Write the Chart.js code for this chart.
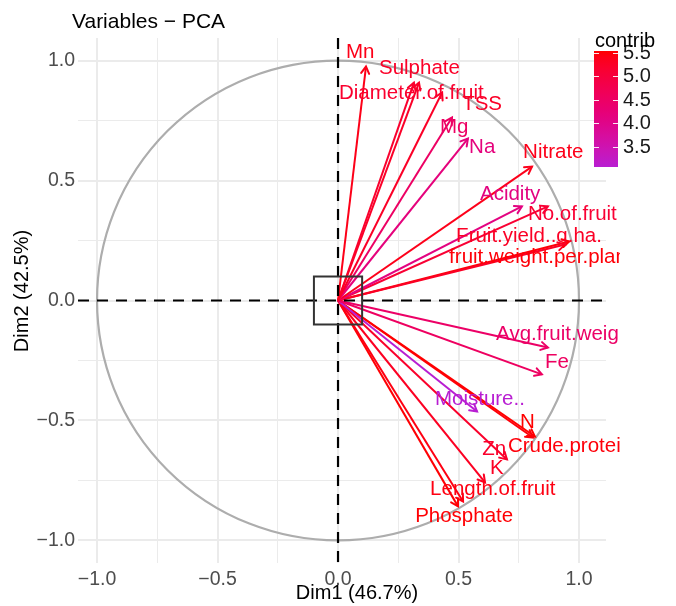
<!DOCTYPE html>
<html>
<head>
<meta charset="utf-8">
<script src="https://cdn.jsdelivr.net/npm/chart.js@4"></script>
<style>
html,body{margin:0;padding:0;background:#fff}
#wrap{width:676px;height:606px;position:relative}
</style>
</head>
<body>
<div id="wrap"><canvas id="chart"></canvas></div>
<script>
// variable names, coordinates on Dim1 / Dim2, contribution
const varNames = ["Mn","Sulphate","Diameter.of.fruit","TSS","Mg","Na","Nitrate","Acidity",
  "No.of.fruit","Fruit.yield..q.ha.","fruit.weight.per.plant","Avg.fruit.weight","Fe",
  "Moisture..","N","Crude.protein","Zn","K","Length.of.fruit","Phosphate"];
const dim1 = [0.116,0.336,0.315,0.432,0.473,0.539,0.805,0.763,
  0.871,0.942,0.959,0.871,0.846,
  0.577,0.817,0.809,0.701,0.610,0.519,0.498];
const dim2 = [0.975,0.908,0.908,0.867,0.7625,0.675,0.558,0.392,
  0.392,0.233,0.246,-0.196,-0.308,
  -0.4625,-0.567,-0.571,-0.6625,-0.758,-0.8375,-0.858];
const contrib = [5.40,5.25,5.18,5.26,4.51,4.18,5.38,4.12,
  5.11,5.28,5.50,4.47,4.55,
  3.07,5.54,5.49,5.21,5.31,5.44,5.52];
// where each label sits (left edge, middle), in Dim1/Dim2 units
const labelX = [0.033,0.170,0.004,0.515,0.423,0.544,0.768,0.589,
  0.788,0.490,0.461,0.656,0.859,
  0.402,0.755,0.705,0.598,0.631,0.382,0.320];
const labelY = [1.033,0.967,0.8625,0.817,0.721,0.6375,0.617,0.442,
  0.358,0.267,0.179,-0.142,-0.258,
  -0.413,-0.508,-0.608,-0.621,-0.700,-0.787,-0.900];

const majorTicks = [-1,-0.5,0,0.5,1];
const gridVals = [-1,-0.75,-0.5,-0.25,0,0.25,0.5,0.75,1];
const legendTicks = [3.5,4.0,4.5,5.0,5.5];

const lowCol = "#B81ED2";
const highCol = "#FF0000";
const FONT = "'Liberation Sans', Arial, sans-serif";

// colour interpolation in Lab, like ggplot's gradient
function toLab(hex){
  let c = [1,3,5].map(i => parseInt(hex.slice(i,i+2),16)/255)
    .map(v => v <= 0.04045 ? v/12.92 : Math.pow((v+0.055)/1.055,2.4));
  let X = (0.4124*c[0]+0.3576*c[1]+0.1805*c[2])/0.95047;
  let Y = 0.2126*c[0]+0.7152*c[1]+0.0722*c[2];
  let Z = (0.0193*c[0]+0.1192*c[1]+0.9505*c[2])/1.08883;
  const f = t => t > 0.008856 ? Math.cbrt(t) : 7.787*t+16/116;
  return [116*f(Y)-16, 500*(f(X)-f(Y)), 200*(f(Y)-f(Z))];
}
function fromLab(L,a,b){
  let fy = (L+16)/116, fx = a/500+fy, fz = fy-b/200;
  const g = t => t*t*t > 0.008856 ? t*t*t : (t-16/116)/7.787;
  let X = 0.95047*g(fx), Y = g(fy), Z = 1.08883*g(fz);
  let rgb = [3.2406*X-1.5372*Y-0.4986*Z, -0.9689*X+1.8758*Y+0.0415*Z, 0.0557*X-0.2040*Y+1.0570*Z];
  rgb = rgb.map(v => v <= 0.0031308 ? 12.92*v : 1.055*Math.pow(v,1/2.4)-0.055)
    .map(v => Math.round(Math.max(0,Math.min(1,v))*255));
  return "rgb(" + rgb.join(",") + ")";
}
const labLow = toLab(lowCol), labHigh = toLab(highCol);
const cMin = Math.min(...contrib), cMax = Math.max(...contrib);
function colorFor(v){
  let t = (v-cMin)/(cMax-cMin);
  return fromLab(labLow[0]+t*(labHigh[0]-labLow[0]),
    labLow[1]+t*(labHigh[1]-labLow[1]),
    labLow[2]+t*(labHigh[2]-labLow[2]));
}
const colors = contrib.map(colorFor);

function fmt(v){
  return v < 0 ? "\u2212" + Math.abs(v).toFixed(1) : v.toFixed(1);
}

const datasets = varNames.map((n,i) => ({
  label: n,
  data: [{x:0,y:0},{x:dim1[i],y:dim2[i]}],
  borderColor: colors[i],
  borderWidth: 2,
  pointRadius: 0,
  showLine: true,
  fill: false
}));

const pcaPlugin = {
  id: "pca",
  beforeDatasetsDraw(chart){
    const ctx = chart.ctx, xs = chart.scales.x, ys = chart.scales.y;
    const cx = xs.getPixelForValue(0), cy = ys.getPixelForValue(0);
    ctx.save();
    ctx.strokeStyle = "#ADADAD";
    ctx.lineWidth = 2.2;
    ctx.beginPath();
    ctx.ellipse(cx, cy, xs.getPixelForValue(1)-cx, cy-ys.getPixelForValue(1), 0, 0, Math.PI*2);
    ctx.stroke();
    ctx.restore();
  },
  afterDatasetsDraw(chart){
    const ctx = chart.ctx, xs = chart.scales.x, ys = chart.scales.y, a = chart.chartArea;
    const cx = xs.getPixelForValue(0), cy = ys.getPixelForValue(0);
    ctx.save();
    // arrow heads
    ctx.lineWidth = 2;
    ctx.lineCap = "round";
    varNames.forEach((n,i) => {
      const px = xs.getPixelForValue(dim1[i]), py = ys.getPixelForValue(dim2[i]);
      const ang = Math.atan2(py-cy, px-cx);
      ctx.strokeStyle = colors[i];
      ctx.beginPath();
      ctx.moveTo(px - 8*Math.cos(ang-Math.PI/6), py - 8*Math.sin(ang-Math.PI/6));
      ctx.lineTo(px, py);
      ctx.lineTo(px - 8*Math.cos(ang+Math.PI/6), py - 8*Math.sin(ang+Math.PI/6));
      ctx.stroke();
    });
    // dashed axes
    ctx.lineCap = "butt";
    ctx.strokeStyle = "#000";
    ctx.lineWidth = 2.2;
    ctx.setLineDash([11,8]);
    ctx.beginPath();
    ctx.moveTo(cx, a.top); ctx.lineTo(cx, a.bottom);
    ctx.moveTo(a.left, cy); ctx.lineTo(a.right, cy);
    ctx.stroke();
    ctx.setLineDash([]);
    // small box round the origin
    ctx.strokeStyle = "#333";
    ctx.lineWidth = 2;
    const bx0 = xs.getPixelForValue(-0.1), bx1 = xs.getPixelForValue(0.1);
    const by0 = ys.getPixelForValue(0.1), by1 = ys.getPixelForValue(-0.1);
    ctx.strokeRect(bx0, by0, bx1-bx0, by1-by0);
    // labels
    ctx.beginPath();
    ctx.rect(0, 0, 620, chart.height);
    ctx.clip();
    ctx.font = "20.5px " + FONT;
    ctx.textAlign = "left";
    ctx.textBaseline = "middle";
    varNames.forEach((n,i) => {
      ctx.fillStyle = colors[i];
      ctx.fillText(n, xs.getPixelForValue(labelX[i]), ys.getPixelForValue(labelY[i]));
    });
    ctx.restore();
  },
  afterDraw(chart){
    const ctx = chart.ctx;
    ctx.save();
    ctx.fillStyle = "#000";
    ctx.font = "21px " + FONT;
    ctx.textAlign = "left";
    ctx.textBaseline = "alphabetic";
    ctx.fillText("Variables \u2212 PCA", 72, 28);
    ctx.font = "20px " + FONT;
    ctx.textAlign = "center";
    ctx.textBaseline = "middle";
    ctx.fillText("Dim1 (46.7%)", 357, 593);
    ctx.save();
    ctx.translate(22, 291);
    ctx.rotate(-Math.PI/2);
    ctx.fillText("Dim2 (42.5%)", 0, 0);
    ctx.restore();
    // colour bar legend
    const barL = 594, barR = 618, barT = 51, barB = 167;
    const grad = ctx.createLinearGradient(0, barB, 0, barT);
    for (let k = 0; k <= 20; k++) {
      grad.addColorStop(k/20, colorFor(cMin + k/20*(cMax-cMin)));
    }
    ctx.fillStyle = grad;
    ctx.fillRect(barL, barT, barR-barL, barB-barT);
    ctx.strokeStyle = "rgba(255,255,255,0.9)";
    ctx.lineWidth = 1;
    ctx.textAlign = "left";
    ctx.fillStyle = "#1a1a1a";
    ctx.font = "20px " + FONT;
    legendTicks.forEach(v => {
      const y = Math.round(barB - (v-cMin)/(cMax-cMin)*(barB-barT)) + 0.5;
      ctx.beginPath();
      ctx.moveTo(barL, y); ctx.lineTo(barL+5, y);
      ctx.moveTo(barR-5, y); ctx.lineTo(barR, y);
      ctx.stroke();
      ctx.fillText(v.toFixed(1), 623, y);
    });
    ctx.fillStyle = "#000";
    ctx.textBaseline = "alphabetic";
    ctx.fillText("contrib", 595, 47);
    ctx.restore();
  }
};

const tickFont = {family: FONT, size: 19.5};

new Chart(document.getElementById("chart"), {
  type: "scatter",
  data: {datasets: datasets},
  plugins: [pcaPlugin],
  options: {
    responsive: true,
    maintainAspectRatio: false,
    animation: false,
    layout: {padding: {left: 0, right: 70, top: 38, bottom: 0}},
    plugins: {legend: {display: false}, tooltip: {enabled: false}, title: {display: false}},
    scales: {
      x: {
        type: "linear",
        min: -1.079, max: 1.112,
        afterBuildTicks: s => { s.ticks = gridVals.map(v => ({value: v})); },
        afterFit: s => { s.height = 43; },
        border: {display: false},
        grid: {
          color: "#EBEBEB",
          drawTicks: false,
          lineWidth: c => (c.tick && majorTicks.includes(c.tick.value)) ? 2 : 1
        },
        ticks: {
          autoSkip: false, maxRotation: 0, padding: 5,
          color: "#4D4D4D", font: tickFont,
          callback: v => majorTicks.includes(v) ? fmt(v) : ""
        }
      },
      y: {
        type: "linear",
        min: -1.094, max: 1.094,
        afterBuildTicks: s => { s.ticks = gridVals.map(v => ({value: v})); },
        afterFit: s => { s.width = 78; },
        border: {display: false},
        grid: {
          color: "#EBEBEB",
          drawTicks: false,
          lineWidth: c => (c.tick && majorTicks.includes(c.tick.value)) ? 2 : 1
        },
        ticks: {
          autoSkip: false, padding: 3,
          color: "#4D4D4D", font: tickFont,
          callback: v => majorTicks.includes(v) ? fmt(v) : ""
        }
      }
    }
  }
});
</script>
</body>
</html>
